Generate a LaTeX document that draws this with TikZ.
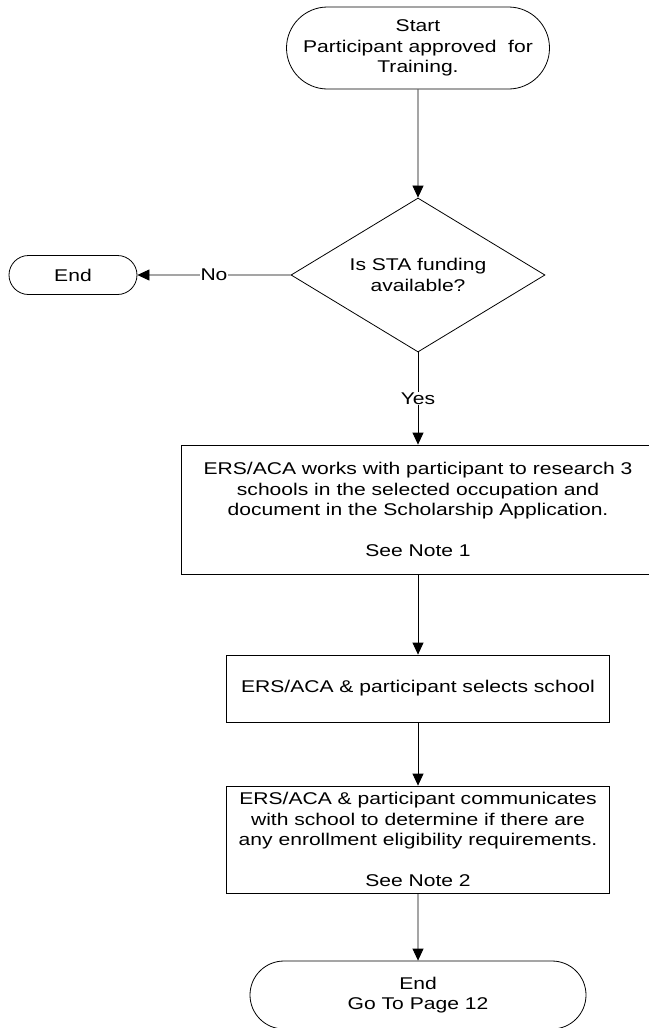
\documentclass[tikz,border=0pt]{standalone}
\usepackage{fontspec}
\setmainfont[FakeStretch=1.24]{Liberation Sans}
\usetikzlibrary{shapes.geometric,shapes.misc,arrows.meta}

\tikzset{
	>={Triangle[length=12pt,width=11pt]},
	terminal/.style={draw, rounded rectangle, inner sep=0pt, align=center},
	decision/.style={draw, diamond, aspect=1.65, inner sep=0pt, align=center},
	process/.style={draw, rectangle, inner sep=0pt, align=center},
	answer/.style={fill=white, inner sep=1pt}
}

\begin{document}
\begin{tikzpicture}[x=1pt, y=-1pt, line width=0.8pt, font=\fontsize{17}{20.5}\selectfont]
	
	\useasboundingbox (0,0) rectangle (648,1028);
	
	% Start
	\node[terminal, minimum width=263pt, minimum height=82pt] (start) at (418,48)
		{Start\\Participant approved~ for\\Training.};
	% Entscheidung
	\node[decision, minimum width=254pt, minimum height=154pt] (funding) at (418,275)
		{Is STA funding\\available?};
	% Ende links
	\node[terminal, minimum width=128pt, minimum height=39pt] (endleft) at (73,275) {End};
	
	% Schritte
	\node[process, minimum width=474pt, minimum height=129pt] (research) at (418,509.5)
		{ERS/ACA works with participant to research 3\\schools in the selected occupation and\\document in the Scholarship Application.\\[20.5pt]See Note 1};
	\node[process, minimum width=383pt, minimum height=67pt] (select) at (418,688.5)
		{ERS/ACA \& participant selects school};
	\node[process, minimum width=383pt, minimum height=107pt] (contact) at (418,839.5)
		{ERS/ACA \& participant communicates\\with school to determine if there are\\any enrollment eligibility requirements.\\[20.5pt]See Note 2};
	
	% Ende unten
	\node[terminal, minimum width=336pt, minimum height=68pt] (endpage) at (418,995)
		{End\\Go To Page 12};
	
	% Pfeile
	\draw[->] (start) -- (funding);
	\draw[->] (funding) -- node[answer] {No} (endleft);
	\draw[->] (funding) -- node[answer] {Yes} (research);
	\draw[->] (research) -- (select);
	\draw[->] (select) -- (contact);
	\draw[->] (contact) -- (endpage);
	
\end{tikzpicture}
\end{document}
